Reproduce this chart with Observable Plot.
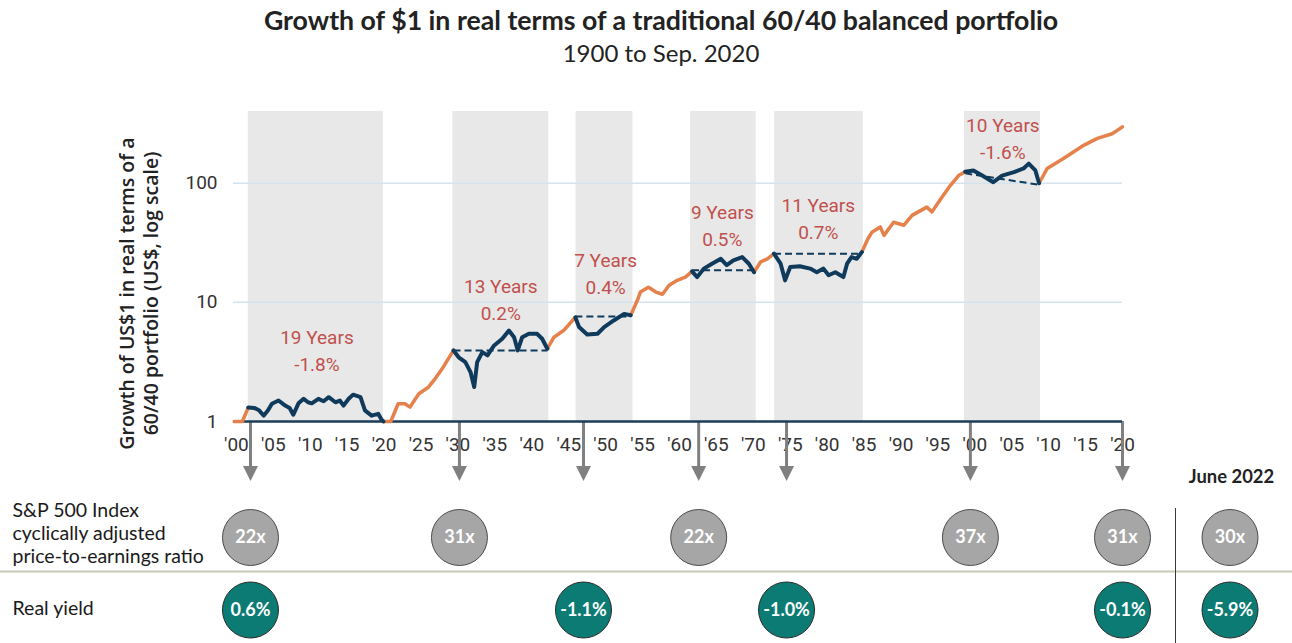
<!DOCTYPE html>
<html>
<head>
<meta charset="utf-8">
<script src="https://cdn.jsdelivr.net/npm/d3@7"></script>
<script src="https://cdn.jsdelivr.net/npm/@observablehq/plot@0.6"></script>
<style>
  html, body { margin: 0; padding: 0; background: #fff; }
  body { width: 1292px; height: 643px; overflow: hidden; font-family: Lato, sans-serif; }
  #head { position: relative; width: 1292px; height: 80px; }
  #title { position: absolute; left: 0; width: 1322px; top: 4px; text-align: center;
           font: 700 26.7px/1.2 Lato, sans-serif; color: #222; white-space: nowrap; }
  #subtitle { position: absolute; left: 0; width: 1322px; top: 39px; text-align: center;
              font: 400 24px/1.2 Lato, sans-serif; color: #222; white-space: nowrap; }
  #chart svg { display: block; }
</style>
</head>
<body>
<div id="head">
  <div id="title">Growth of $1 in real terms of a traditional 60/40 balanced portfolio</div>
  <div id="subtitle">1900 to Sep. 2020</div>
</div>
<div id="chart"></div>
<script>
// ---- Data ----
const years = [
  1899.7, 1900.8, 1901.6,
  1902.4, 1903.0, 1903.7, 1904.3, 1904.8, 1905.7, 1906.6, 1907.2, 1907.7, 1908.4, 1909.1, 1909.7,
  1910.2, 1911.1, 1911.8, 1912.5, 1913.4, 1914.0, 1914.5, 1915.2, 1915.8, 1916.8, 1917.4, 1918.3,
  1919.2, 1919.6, 1919.9,
  1920.9, 1921.9, 1922.8, 1923.5, 1924.7, 1926.0, 1926.9, 1928.0, 1929.4,
  1930.1, 1931.0, 1931.7, 1932.2, 1932.6, 1933.3, 1934.0, 1934.9, 1936.0, 1936.9, 1937.6, 1938.1,
  1938.7, 1939.6, 1940.7, 1941.4, 1942.1,
  1943.0, 1944.3, 1945.9,
  1946.4, 1947.5, 1948.9, 1949.8, 1951.1, 1952.5, 1953.4,
  1954.3, 1954.7, 1955.8, 1956.8, 1957.7, 1958.6, 1959.7, 1960.8, 1961.7,
  1962.4, 1963.3, 1964.4, 1965.6, 1966.4, 1967.3, 1968.5, 1969.4, 1970.1,
  1971.0, 1971.9, 1972.8,
  1973.7, 1974.3, 1975.0, 1976.3, 1977.7, 1978.6, 1979.5, 1980.2, 1981.1, 1982.2, 1982.7, 1983.3,
  1984.0, 1984.7,
  1985.5, 1986.1, 1987.2, 1987.7, 1989.0, 1990.4, 1991.5, 1993.5, 1994.2, 1995.4, 1996.7, 1997.8, 1998.7,
  1999.8, 2001.0, 2002.5, 2003.7, 2005.3, 2006.6, 2007.3, 2008.2, 2008.7,
  2009.8, 2012.0, 2014.8, 2016.6, 2018.6, 2020.0
];
const values = [
  1.00, 1.00, 1.31,
  1.30, 1.25, 1.12, 1.25, 1.41, 1.50, 1.36, 1.30, 1.14, 1.42, 1.55, 1.45,
  1.42, 1.55, 1.48, 1.60, 1.45, 1.50, 1.36, 1.55, 1.68, 1.60, 1.24, 1.12,
  1.16, 1.05, 1.00,
  1.00, 1.41, 1.41, 1.32, 1.71, 1.94, 2.28, 2.86, 3.95,
  3.46, 3.15, 2.60, 1.95, 3.15, 3.82, 3.59, 4.35, 4.95, 5.8, 5.1, 3.95,
  5.1, 5.45, 5.45, 4.95, 4.08,
  5.1, 5.8, 7.5,
  6.2, 5.38, 5.45, 6.2, 7.05, 8.0, 7.8,
  10.4, 12.2, 13.4, 12.2, 11.7, 13.9, 15.3, 16.3, 18.2,
  16.3, 19.2, 21.1, 23.2, 20.5, 22.5, 24.0, 21.1, 17.9,
  21.9, 23.2, 25.6,
  21.1, 15.3, 19.8, 20.1, 19.2, 17.9, 19.2, 16.9, 17.9, 16.3, 21.1, 24.0,
  23.2, 26.4,
  34, 39, 43, 36.5, 47, 44.4, 53.7, 63, 57.5, 74, 96, 116, 125,
  128, 116, 102, 116, 124, 133, 146, 128, 100,
  133, 161, 209, 238, 260, 297
];

// flat / losing stretches (navy)
const drawStart = [1901.6, 1929.4, 1945.9, 1961.7, 1972.8, 1998.7];
const drawEnd   = [1919.9, 1942.1, 1953.4, 1970.1, 1984.7, 2008.7];
const shadeStart = [1901.6, 1929.3, 1946.0, 1961.5, 1972.9, 1998.6];
const shadeEnd   = [1919.9, 1942.3, 1953.7, 1970.4, 1984.9, 2008.9];
const drawLength = ["19 Years", "13 Years", "7 Years", "9 Years", "11 Years", "10 Years"];
const drawReturn = ["-1.8%", "0.2%", "0.4%", "0.5%", "0.7%", "-1.6%"];
const labelYear  = [1910.9, 1935.8, 1950.0, 1965.8, 1978.8, 2003.8];
const labelValue = [4.1, 11.0, 17.9, 45.2, 51.8, 245];
// dashed reference lines (start value -> end value) for periods 2..6
const dashStartYear = [1929.4, 1945.9, 1961.7, 1972.8, 1998.7];
const dashEndYear   = [1942.1, 1953.4, 1970.1, 1984.7, 2008.7];
const dashFrom = [3.95, 7.6, 18.6, 25.6, 121];
const dashTo   = [3.95, 7.6, 18.6, 25.6, 97];

const xTicks = d3.range(1900, 2021, 5);
const yTicks = [1, 10, 100];

const arrowYears = [1901.9, 1930.2, 1947.0, 1962.6, 1974.5, 1999.4, 2020];
const capeYears  = [1901.9, 1930.2, 1962.6, 1999.4, 2020];
const capeValues = ["22x", "31x", "22x", "37x", "31x"];
const yieldYears  = [1901.9, 1947.0, 1974.5, 2020];
const yieldValues = ["0.6%", "-1.1%", "-1.0%", "-0.1%"];
const latestLabel = "June 2022";
const latestCape = "30x";
const latestYield = "-5.9%";
const capeRowLabel = "S&P 500 Index\ncyclically adjusted\nprice-to-earnings ratio";
const yieldRowLabel = "Real yield";
const yAxisTitle = "Growth of US$1 in real terms of a\n60/40 portfolio (US$, log scale)";

// ---- Build tables ----
const inDraw = t => drawStart.some((s, i) => t > s && t < drawEnd[i]);
const pts = years.map((t, i) => ({year: t, value: values[i]}));
const segs = [];
let run = -1, prevType = null;
for (let i = 0; i < pts.length - 1; i++) {
  const type = inDraw((pts[i].year + pts[i + 1].year) / 2) ? "draw" : "grow";
  if (type !== prevType) { run++; segs.push({...pts[i], run, type}); prevType = type; }
  segs.push({...pts[i + 1], run, type});
}
const shades = shadeStart.map((s, i) => ({x1: s, x2: shadeEnd[i]}));
const labels = labelYear.map((x, i) => ({x, y: labelValue[i], text: drawLength[i] + "\n" + drawReturn[i]}));
const dashes = dashStartYear.map((x1, i) => ({x1, x2: dashEndYear[i], y1: dashFrom[i], y2: dashTo[i]}));
const cape = capeYears.map((year, i) => ({year, label: capeValues[i]}));
const ryield = yieldYears.map((year, i) => ({year, label: yieldValues[i]}));

const W = 1292, H = 563, mT = 31, mB = 222, mL = 233, mR = 170;
const frameH = H - mT - mB;
const ORANGE = "#e5814b", NAVY = "#0f3a5c", RED = "#c0504d";
const downTri = {draw(ctx) { ctx.moveTo(-7.5, -7); ctx.lineTo(7.5, -7); ctx.lineTo(0, 8); ctx.closePath(); }};
const one = () => 1;
const CAPE_DY = 116, YIELD_DY = 188.5, LATEST_DX = 107.5;
const LATO = "Lato, sans-serif";

const chart = Plot.plot({
  width: W, height: H,
  marginTop: mT, marginBottom: mB, marginLeft: mL, marginRight: mR,
  x: {type: "linear", domain: [1899.6, 2020]},
  y: {type: "log", domain: [1, 400]},
  style: {fontFamily: "Roboto, sans-serif", fontSize: "19px", color: "#333", background: "transparent", overflow: "visible"},
  marks: [
    Plot.rect(shades, {x1: "x1", x2: "x2", fill: "#e8e8e8"}),
    Plot.ruleY([10, 100], {stroke: "#d4e4ee", strokeWidth: 1.5}),
    Plot.axisX({ticks: xTicks, tickFormat: d => "'" + String(d).slice(2), tickSize: 0, tickPadding: 16, label: null, fontSize: 19}),
    Plot.axisY({ticks: yTicks, tickFormat: d => String(d), tickSize: 0, tickPadding: 16, label: null, fontSize: 19}),
    Plot.ruleX(arrowYears, {stroke: "#808080", strokeWidth: 3, insetTop: frameH, insetBottom: -45}),
    Plot.dot(arrowYears, {x: d => d, y: one, dy: 51.5, symbol: downTri, fill: "#808080", stroke: "none"}),
    Plot.ruleY([1], {stroke: "#1d3c5a", strokeWidth: 2.5}),
    Plot.link(dashes, {x1: "x1", x2: "x2", y1: "y1", y2: "y2", stroke: NAVY, strokeWidth: 2, strokeDasharray: "7,4"}),
    Plot.line(segs.filter(d => d.type === "grow"), {x: "year", y: "value", z: "run", stroke: ORANGE, strokeWidth: 3.5, strokeLinejoin: "round", strokeLinecap: "round"}),
    Plot.line(segs.filter(d => d.type === "draw"), {x: "year", y: "value", z: "run", stroke: NAVY, strokeWidth: 4, strokeLinejoin: "round", strokeLinecap: "round"}),
    Plot.text(labels, {x: "x", y: "y", text: "text", fill: RED, fontSize: 19, lineHeight: 1.42}),
    Plot.text([yAxisTitle], {text: d => d, frameAnchor: "left", textAnchor: "middle", lineAnchor: "middle", rotate: -90, dx: -95.5, dy: 27,
      fontFamily: "'Open Sans', sans-serif", fontWeight: 600, fontSize: 19.5, fill: "#222", lineHeight: 1.28}),
    // table below the chart
    Plot.text([latestLabel], {text: d => d, x: () => 2020, y: one, dx: 109, dy: 55.5,
      fontFamily: LATO, fontWeight: "bold", fontSize: 18.4, fill: "#222"}),
    Plot.ruleY([1], {dy: 150, insetLeft: -mL, insetRight: -mR, stroke: "#c9c9b8", strokeWidth: 2}),
    Plot.ruleX([2020], {dx: 53, insetTop: frameH + 87, insetBottom: -mB, stroke: "#3a3a3a", strokeWidth: 1}),
    Plot.text([capeRowLabel], {text: d => d, frameAnchor: "left", y: one, dx: 12 - mL, dy: 111.5, textAnchor: "start",
      fontFamily: LATO, fontSize: 19.5, fill: "#1a1a1a", lineHeight: 1.18}),
    Plot.text([yieldRowLabel], {text: d => d, frameAnchor: "left", y: one, dx: 12 - mL, dy: 187, textAnchor: "start",
      fontFamily: LATO, fontSize: 19.5, fill: "#1a1a1a"}),
    Plot.dot(cape, {x: "year", y: one, dy: CAPE_DY, r: 28, fill: "#a6a6a6", stroke: "#4a4a4a", strokeWidth: 1}),
    Plot.text(cape, {x: "year", y: one, dy: CAPE_DY, text: "label", fill: "white", fontFamily: LATO, fontWeight: "bold", fontSize: 18}),
    Plot.dot([latestCape], {x: () => 2020, y: one, dx: LATEST_DX, dy: CAPE_DY, r: 28, fill: "#a6a6a6", stroke: "#4a4a4a", strokeWidth: 1}),
    Plot.text([latestCape], {text: d => d, x: () => 2020, y: one, dx: LATEST_DX, dy: CAPE_DY, fill: "white", fontFamily: LATO, fontWeight: "bold", fontSize: 18}),
    Plot.dot(ryield, {x: "year", y: one, dy: YIELD_DY, r: 28, fill: "#0b7b74", stroke: "#2a2a2a", strokeWidth: 1}),
    Plot.text(ryield, {x: "year", y: one, dy: YIELD_DY, text: "label", fill: "white", fontFamily: LATO, fontWeight: "bold", fontSize: 18}),
    Plot.dot([latestYield], {x: () => 2020, y: one, dx: LATEST_DX, dy: YIELD_DY, r: 28, fill: "#0b7b74", stroke: "#2a2a2a", strokeWidth: 1}),
    Plot.text([latestYield], {text: d => d, x: () => 2020, y: one, dx: LATEST_DX, dy: YIELD_DY, fill: "white", fontFamily: LATO, fontWeight: "bold", fontSize: 18})
  ]
});
document.getElementById("chart").appendChild(chart);
</script>
</body>
</html>
